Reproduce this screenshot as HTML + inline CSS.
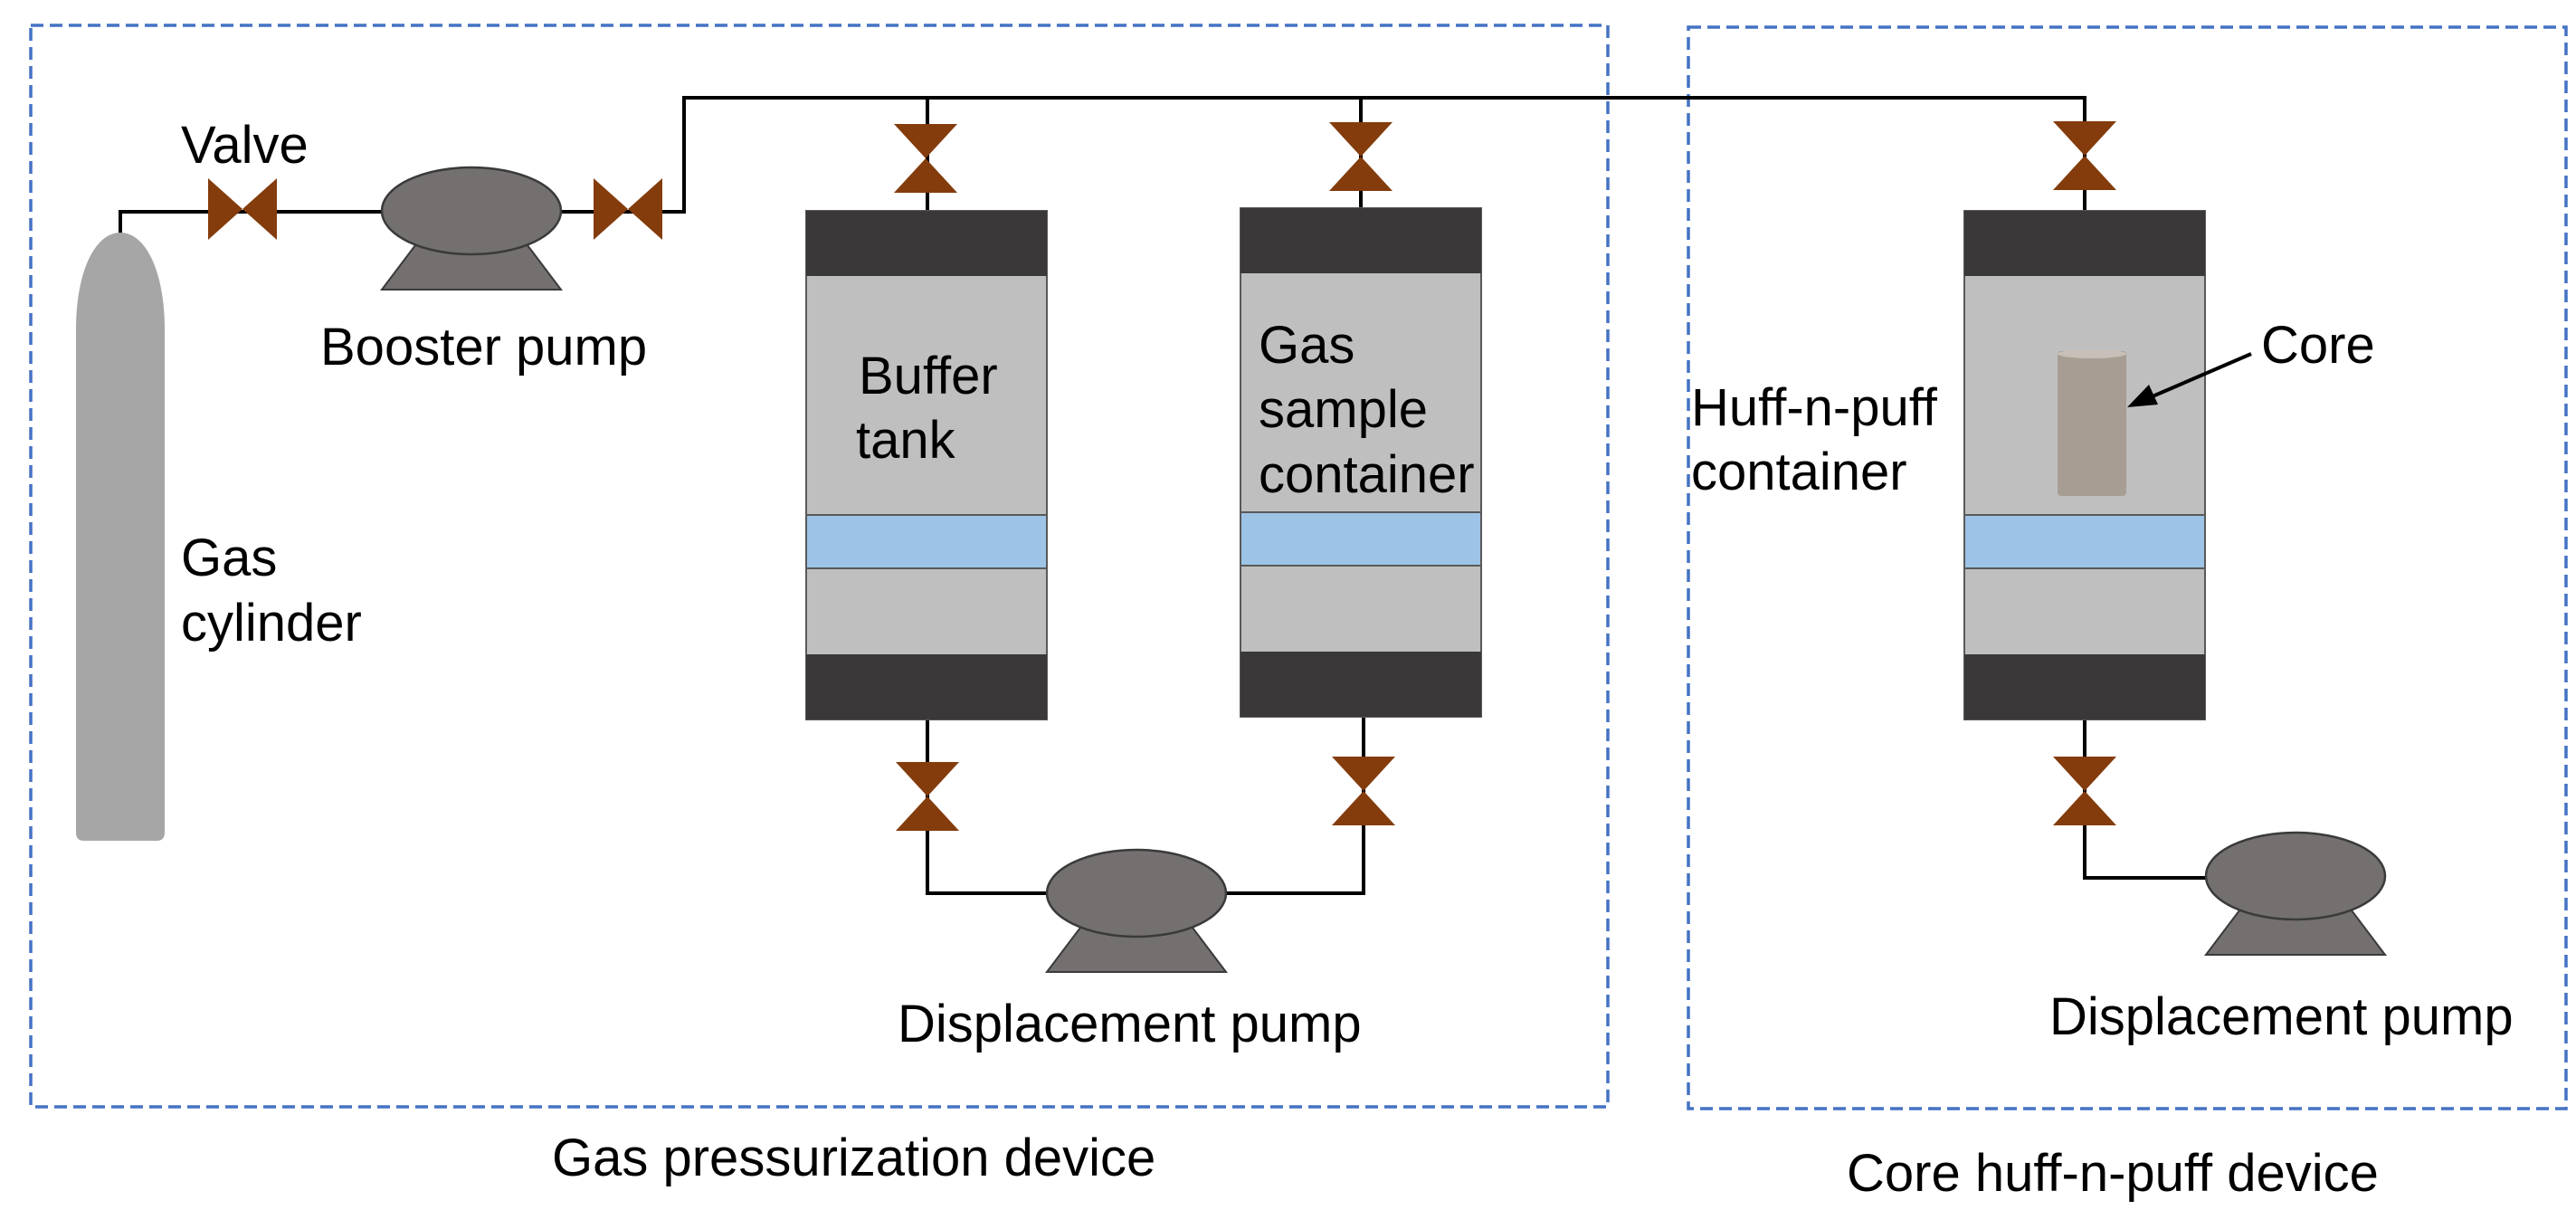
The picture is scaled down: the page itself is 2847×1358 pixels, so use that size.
<!DOCTYPE html>
<html><head><meta charset="utf-8"><style>
html,body{margin:0;padding:0;background:#fff;}
svg{display:block;}
text{font-family:"Liberation Sans",Arial,sans-serif;font-size:58px;fill:#000;}
</style></head><body>
<svg width="2847" height="1358" viewBox="0 0 2847 1358" xmlns="http://www.w3.org/2000/svg">
<defs>
<g id="vh"><polygon points="-38,-34 0,0 -38,34" fill="#843c0c"/><polygon points="38,-34 0,0 38,34" fill="#843c0c"/></g>
<g id="vv"><polygon points="-35,-38 35,-38 0,0" fill="#843c0c"/><polygon points="-35,38 35,38 0,0" fill="#843c0c"/></g>
<g id="pump">
<polygon points="-62,38 62,38 99,87 -99,87" fill="#747070" stroke="#3a3a3a" stroke-width="2"/>
<ellipse cx="0" cy="0" rx="99" ry="48" fill="#747070" stroke="#3a3a3a" stroke-width="2.5"/>
</g>
<g id="tank">
<rect x="0" y="0" width="266" height="562" fill="#bfbfbf" stroke="#595959" stroke-width="2"/>
<rect x="0" y="0" width="266" height="72" fill="#3a3838"/>
<rect x="0" y="336" width="266" height="59" fill="#9dc3e6" stroke="#595959" stroke-width="2"/>
<rect x="0" y="490" width="266" height="72" fill="#3a3838"/>
</g>
</defs>

<rect x="34" y="28" width="1743" height="1195" fill="none" stroke="#4472c4" stroke-width="3.5" stroke-dasharray="14,7"/>
<rect x="1866" y="30" width="970" height="1195" fill="none" stroke="#4472c4" stroke-width="3.5" stroke-dasharray="14,7"/>

<g fill="none" stroke="#000" stroke-width="4">
<polyline points="133,262 133,234 756,234 756,108 2304,108 2304,233"/>
<line x1="1025" y1="108" x2="1025" y2="233"/>
<line x1="1504" y1="108" x2="1504" y2="229"/>
<polyline points="1025,795 1025,987 1157,987"/>
<polyline points="1355,987 1507,987 1507,792"/>
<polyline points="2304,795 2304,970 2438,970"/>
</g>

<path d="M84,364 C84,300 105,257 133,257 C161,257 182,300 182,364 L182,920 Q182,929 173,929 L93,929 Q84,929 84,920 Z" fill="#a6a6a6"/>

<use href="#vh" x="268" y="231"/>
<use href="#vh" x="694" y="231"/>
<use href="#vv" x="1023" y="175"/>
<use href="#vv" x="1504" y="173"/>
<use href="#vv" x="2304" y="172"/>
<use href="#vv" x="1025" y="880"/>
<use href="#vv" x="1507" y="874"/>
<use href="#vv" x="2304" y="874"/>

<use href="#pump" x="521" y="233"/>
<use href="#pump" x="1256" y="987"/>
<use href="#pump" x="2537" y="968"/>

<use href="#tank" x="891" y="233"/>
<use href="#tank" x="1371" y="230"/>
<use href="#tank" x="2171" y="233"/>

<rect x="2274" y="388" width="76" height="160" rx="4" fill="#a79d93"/>
<ellipse cx="2312" cy="391" rx="38" ry="5" fill="#c8c0b8"/>
<line x1="2488" y1="391" x2="2372" y2="441" stroke="#000" stroke-width="4"/>
<polygon points="2351,450 2375,425 2385,447" fill="#000"/>

<text x="200" y="180">Valve</text>
<text x="354" y="403">Booster pump</text>
<text x="200" y="636">Gas</text>
<text x="200" y="708">cylinder</text>
<text x="949" y="435">Buffer</text>
<text x="946" y="506">tank</text>
<text x="1391" y="401">Gas</text>
<text x="1391" y="472">sample</text>
<text x="1391" y="544">container</text>
<text x="1869" y="470">Huff-n-puff</text>
<text x="1869" y="541">container</text>
<text x="2499" y="401">Core</text>
<text x="992" y="1151">Displacement pump</text>
<text x="2265" y="1143">Displacement pump</text>
<text x="610" y="1299">Gas pressurization device</text>
<text x="2041" y="1316">Core huff-n-puff device</text>
</svg>
</body></html>
